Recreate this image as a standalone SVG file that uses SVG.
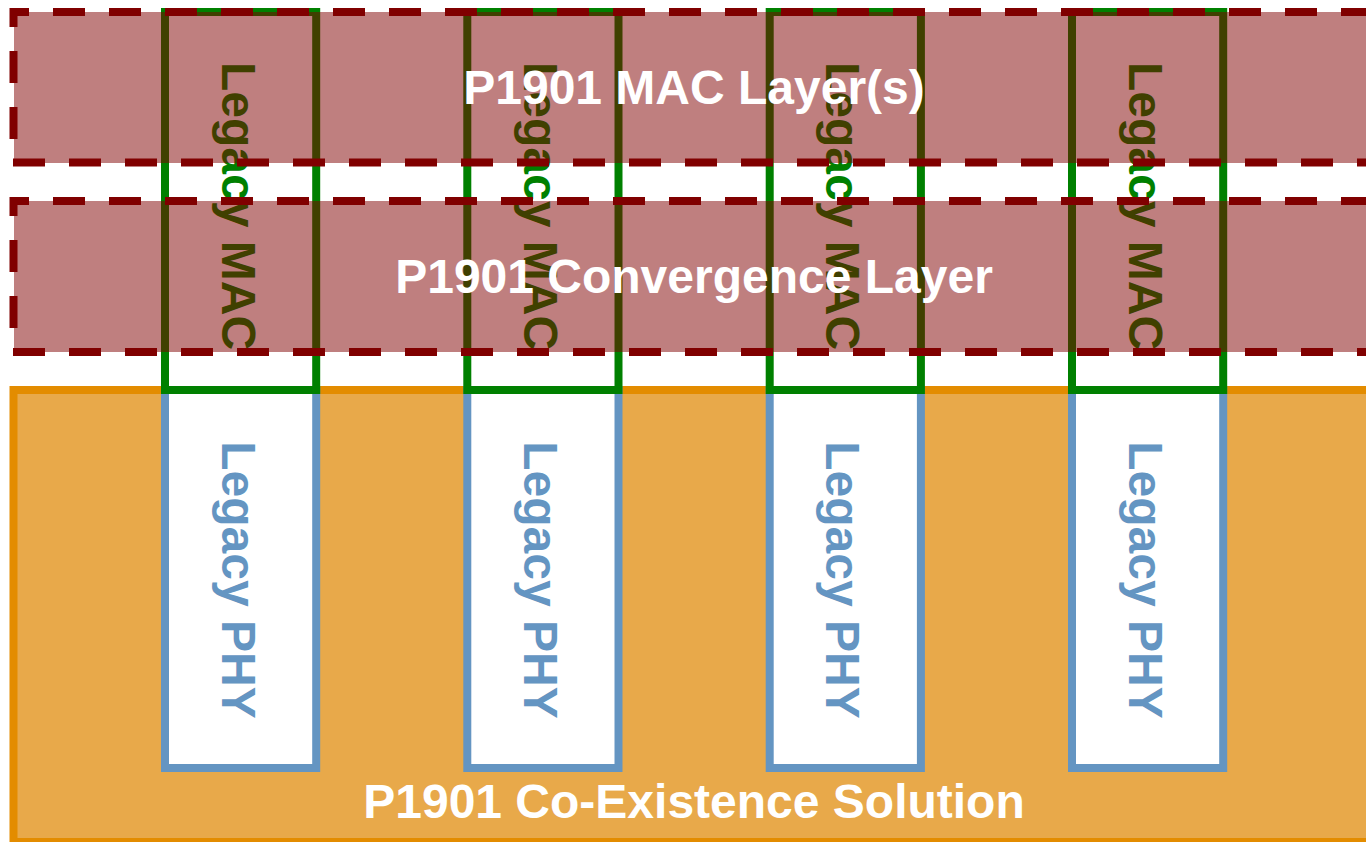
<svg xmlns="http://www.w3.org/2000/svg" width="1366" height="842" viewBox="0 0 1366 842">
<style>
.lbl{font-family:"Liberation Sans",Arial,sans-serif;font-weight:bold;font-size:48px}
.white{fill:#FFFFFF}
.phy{fill:#FFFFFF;stroke:#6495C2;stroke-width:8}
.phyt{fill:#6495C2}
.mac{fill:none;stroke:#008000;stroke-width:8}
.mact{fill:#008000}
.band{fill:#800000;fill-opacity:0.5;stroke:none}
.dash{stroke:#800000;stroke-width:8;stroke-dasharray:32 24;fill:none}
</style>
<rect x="0" y="0" width="1366" height="842" fill="#FFFFFF"/>
<g id="coexistence">
<rect x="13.5" y="390" width="1370" height="452" fill="#E8A94A" stroke="#E38C00" stroke-width="8"/>
<text class="lbl white" x="694" y="818" text-anchor="middle">P1901 Co-Existence Solution</text>
</g>
<g id="phy1"><rect class="phy" x="165" y="390" width="151.2" height="378"/><text class="lbl phyt" text-anchor="middle" transform="translate(221.7,580) rotate(90)">Legacy PHY</text></g>
<g id="phy2"><rect class="phy" x="467.3" y="390" width="151.2" height="378"/><text class="lbl phyt" text-anchor="middle" transform="translate(524,580) rotate(90)">Legacy PHY</text></g>
<g id="phy3"><rect class="phy" x="769.7" y="390" width="151.2" height="378"/><text class="lbl phyt" text-anchor="middle" transform="translate(826.4,580) rotate(90)">Legacy PHY</text></g>
<g id="phy4"><rect class="phy" x="1072" y="390" width="151.2" height="378"/><text class="lbl phyt" text-anchor="middle" transform="translate(1128.7,580) rotate(90)">Legacy PHY</text></g>
<g id="mac1"><rect class="mac" x="165" y="12" width="151.2" height="378"/><text class="lbl mact" text-anchor="middle" transform="translate(221.7,206) rotate(90)">Legacy MAC</text></g>
<g id="mac2"><rect class="mac" x="467.3" y="12" width="151.2" height="378"/><text class="lbl mact" text-anchor="middle" transform="translate(524,206) rotate(90)">Legacy MAC</text></g>
<g id="mac3"><rect class="mac" x="769.7" y="12" width="151.2" height="378"/><text class="lbl mact" text-anchor="middle" transform="translate(826.4,206) rotate(90)">Legacy MAC</text></g>
<g id="mac4"><rect class="mac" x="1072" y="12" width="151.2" height="378"/><text class="lbl mact" text-anchor="middle" transform="translate(1128.7,206) rotate(90)">Legacy MAC</text></g>
<g id="mac-layer">
<rect class="band" x="14" y="12" width="1370" height="151"/>
<line class="dash" x1="10" y1="12" x2="1380" y2="12" stroke-dashoffset="13"/>
<line class="dash" x1="13.5" y1="8" x2="13.5" y2="163" stroke-dashoffset="13"/>
<line class="dash" x1="13" y1="162.5" x2="1380" y2="162.5"/>
<text class="lbl white" x="694" y="104" text-anchor="middle">P1901 MAC Layer(s)</text>
</g>
<g id="convergence-layer">
<rect class="band" x="14" y="201" width="1370" height="151"/>
<line class="dash" x1="10" y1="201" x2="1380" y2="201" stroke-dashoffset="13"/>
<line class="dash" x1="13.5" y1="197" x2="13.5" y2="352" stroke-dashoffset="13"/>
<line class="dash" x1="13" y1="352" x2="1380" y2="352"/>
<text class="lbl white" x="694" y="293" text-anchor="middle">P1901 Convergence Layer</text>
</g>
<g id="connectors"/>
</svg>
